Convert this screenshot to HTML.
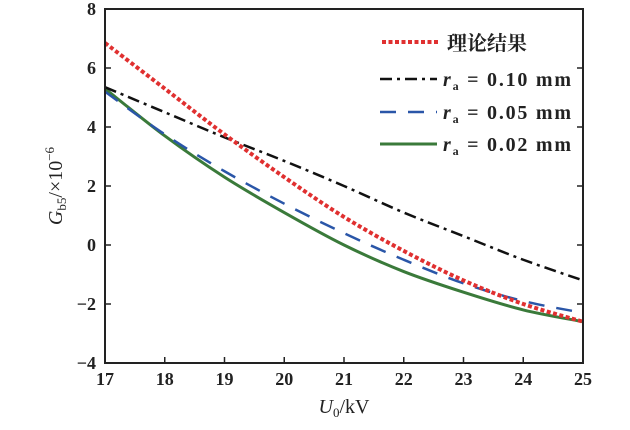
<!DOCTYPE html>
<html><head><meta charset="utf-8"><style>
body{margin:0;background:#fff}
svg{font-family:"Liberation Serif","Noto Serif CJK SC",serif}
</style></head><body>
<svg width="630" height="425" viewBox="0 0 630 425">
<g id="plot"></g>
<rect x="105" y="9" width="478" height="354" fill="none" stroke="#222" stroke-width="2"/>
<g id="ticks" font-size="18" font-weight="bold" fill="#222"></g>
<text x="344" y="413" font-size="20" text-anchor="middle" fill="#222"><tspan font-style="italic">U</tspan><tspan font-size="13" dy="4">0</tspan><tspan dy="-4">/kV</tspan></text>
<text transform="translate(62,186) rotate(-90)" font-size="20" text-anchor="middle" fill="#222"><tspan font-style="italic">G</tspan><tspan font-size="13" dy="4">b5</tspan><tspan dy="-4">/×10</tspan><tspan font-size="13" dy="-8">−6</tspan></text>
<g id="legend">
<line x1="382" y1="42" x2="440" y2="42" stroke="#e03030" stroke-width="4" stroke-dasharray="4,2.5"/>
<text x="447" y="50" font-size="20" font-family="'Noto Serif CJK SC',serif" font-weight="bold" fill="#222">理论结果</text>
<line x1="380" y1="79" x2="437" y2="79" stroke="#111" stroke-width="2.5" stroke-dasharray="12,5,3,5"/>
<text x="443" y="86" font-size="20" font-weight="bold" fill="#222" textLength="128"><tspan font-style="italic">r</tspan><tspan font-size="12" dy="4">a</tspan><tspan dy="-4"> = 0.10 mm</tspan></text>
<line x1="380" y1="112" x2="437" y2="112" stroke="#2a56a8" stroke-width="2.5" stroke-dasharray="16,12"/>
<text x="443" y="119" font-size="20" font-weight="bold" fill="#222" textLength="128"><tspan font-style="italic">r</tspan><tspan font-size="12" dy="4">a</tspan><tspan dy="-4"> = 0.05 mm</tspan></text>
<line x1="380" y1="144" x2="437" y2="144" stroke="#3a7a3a" stroke-width="3"/>
<text x="443" y="151" font-size="20" font-weight="bold" fill="#222" textLength="128"><tspan font-style="italic">r</tspan><tspan font-size="12" dy="4">a</tspan><tspan dy="-4"> = 0.02 mm</tspan></text>
</g>
</svg>
<script>
const xs=[17,18,19,20,21,22,23,24,25];
const theory=[6.85,5.3,3.75,2.3,0.95,-0.2,-1.2,-2.0,-2.6];
const r010=[5.35,4.5,3.65,2.85,2.0,1.1,0.3,-0.5,-1.2];
const r005=[5.2,3.75,2.5,1.4,0.4,-0.5,-1.3,-1.9,-2.3];
const r002=[5.3,3.7,2.3,1.1,0.0,-0.9,-1.6,-2.2,-2.6];
const xTicks=[17,18,19,20,21,22,23,24,25];
const yTicks=[8,6,4,2,0,-2,-4];
const X=v=>105+(v-17)*(478/8);
const Y=v=>363-(v+4)*(354/12);
const NS="http://www.w3.org/2000/svg";
function path(vals){
  const p=xs.map((x,i)=>[X(x),Y(vals[i])]);
  let d="M"+p[0][0]+","+p[0][1];
  for(let i=0;i<p.length-1;i++){
    const p0=p[Math.max(0,i-1)],p1=p[i],p2=p[i+1],p3=p[Math.min(p.length-1,i+2)];
    const c1=[p1[0]+(p2[0]-p0[0])/6,p1[1]+(p2[1]-p0[1])/6];
    const c2=[p2[0]-(p3[0]-p1[0])/6,p2[1]-(p3[1]-p1[1])/6];
    d+=` C${c1} ${c2} ${p2}`;
  }
  return d;
}
const plot=document.getElementById('plot');
function addLine(vals,color,w,dash,name){
  const e=document.createElementNS(NS,'path');
  e.setAttribute('d',path(vals));e.setAttribute('fill','none');
  e.setAttribute('stroke',color);e.setAttribute('stroke-width',w);
  if(dash)e.setAttribute('stroke-dasharray',dash);
  
  
  plot.appendChild(e);
}
addLine(r002,'#3a7a3a',3,null,'series-r002');
addLine(r005,'#2a56a8',2.5,'16,12','series-r005');
addLine(r010,'#111',2.5,'12,5,3,5','series-r010');
addLine(theory,'#e03030',4,'4,2.5','series-theory');
const tg=document.getElementById('ticks');
xTicks.forEach(v=>{
  const l=document.createElementNS(NS,'line');
  l.setAttribute('x1',X(v));l.setAttribute('x2',X(v));l.setAttribute('y1',363);l.setAttribute('y2',357);
  l.setAttribute('stroke','#222');l.setAttribute('stroke-width',1.5);
  
  
  tg.appendChild(l);
  const t=document.createElementNS(NS,'text');
  t.setAttribute('x',X(v));t.setAttribute('y',385);t.setAttribute('text-anchor','middle');
  t.textContent=v;
  
  
  tg.appendChild(t);
});
yTicks.forEach(v=>{
  const l=document.createElementNS(NS,'line');
  l.setAttribute('x1',105);l.setAttribute('x2',111);l.setAttribute('y1',Y(v));l.setAttribute('y2',Y(v));
  l.setAttribute('stroke','#222');l.setAttribute('stroke-width',1.5);
  
  
  tg.appendChild(l);
  const l2=document.createElementNS(NS,'line');
  l2.setAttribute('x1',577);l2.setAttribute('x2',583);l2.setAttribute('y1',Y(v));l2.setAttribute('y2',Y(v));
  l2.setAttribute('stroke','#222');l2.setAttribute('stroke-width',1.5);
  
  
  tg.appendChild(l2);
  const t=document.createElementNS(NS,'text');
  t.setAttribute('x',96);t.setAttribute('y',Y(v)+6);t.setAttribute('text-anchor','end');
  t.textContent=v<0?'−'+(-v):v;
  
  
  tg.appendChild(t);
});
</script>
</body></html>
